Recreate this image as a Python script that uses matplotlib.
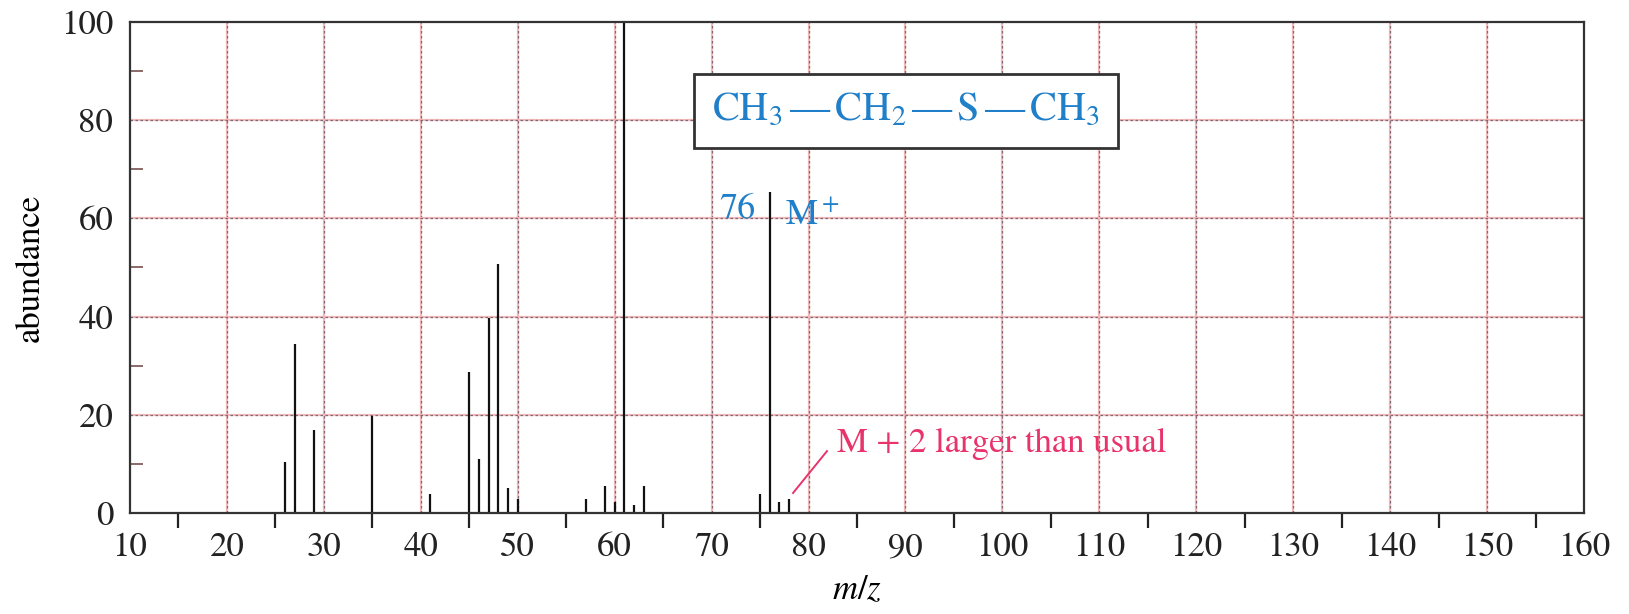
import numpy as np
from matplotlib import pyplot as plt

plt.rcParams['font.family'] = ['STIXGeneral', 'DejaVu Serif']
plt.rcParams['mathtext.fontset'] = 'stix'

# mass spectrum of ethyl methyl sulfide
mz = [26, 27, 29, 35, 41, 45, 46, 47, 48, 49, 50, 57, 59, 60, 61, 62, 63, 75, 76, 77, 78]
abundance = [10.4, 34.4, 16.9, 19.8, 3.9, 28.7, 11.0, 39.7, 50.7, 5.1, 2.9,
             2.9, 5.5, 2.3, 100, 1.7, 5.5, 3.9, 65.4, 2.2, 2.8]

x_labels = list(range(10, 161, 10))
x_minor = list(range(15, 160, 10))
y_labels = list(range(0, 101, 20))
y_minor = list(range(10, 100, 20))

blue = '#1f7fc8'
pink = '#e8336b'

fig = plt.figure(figsize=(16.29, 6.14), dpi=100)
ax = fig.add_axes([0.0798, 0.1645, 0.8926, 0.7997])

# dotted grid (pink under grey dashes)
for v in x_labels[1:-1]:
    ax.axvline(v, color='#f3b9b9', lw=1.6, zorder=0)
    ax.axvline(v, color='#7a6a7a', lw=0.9, ls=(0, (2, 2)), zorder=0)
for v in y_labels[1:-1]:
    ax.axhline(v, color='#f3b9b9', lw=1.6, zorder=0)
    ax.axhline(v, color='#7a6a7a', lw=0.9, ls=(0, (2, 2)), zorder=0)

ax.vlines(mz, 0, abundance, colors='#111111', lw=1.6, zorder=2)

ax.set_xlim(10, 160)
ax.set_ylim(0, 100)
ax.set_xticks(x_labels)
ax.set_xticks(x_minor, minor=True)
ax.set_yticks(y_labels)
ax.set_yticks(y_minor, minor=True)
ax.tick_params(axis='both', which='major', length=0, labelsize=25, colors='#222222')
ax.tick_params(axis='x', which='major', pad=14)
ax.tick_params(axis='y', which='major', pad=12)
ax.tick_params(axis='x', which='minor', direction='out', length=11, width=1.6, color='#222222')
ax.tick_params(axis='y', which='minor', direction='in', length=9.5, width=1.4, color='#8a6a6a')
for s in ax.spines.values():
    s.set_linewidth(1.6)
    s.set_color('#333333')

ax.set_xlabel('$m/z$', fontsize=25, labelpad=8)
ax.set_ylabel('abundance', fontsize=25, labelpad=10)

formula = r'$\mathrm{CH_3\,—\,CH_2\,—\,S\,—\,CH_3}$'
ax.text(90.06, 81.9, formula,
        fontsize=29, color=blue, ha='center', va='center', zorder=5,
        bbox=dict(boxstyle='square,pad=0.45', fc='white', ec='#333333', lw=2))

ax.text(74.5, 60.1, '76', fontsize=26, color=blue, ha='right', va='baseline')
ax.text(77.6, 58.7, r'M$^+$', fontsize=26, color=blue, ha='left', va='baseline')

ax.plot([78.4, 81.9], [4.07, 12.6], color=pink, lw=1.4)
ax.text(82.94, 12.4, 'M + 2 larger than usual', fontsize=25, color=pink,
        ha='left', va='baseline')

fig.savefig('out.png', dpi=100)
